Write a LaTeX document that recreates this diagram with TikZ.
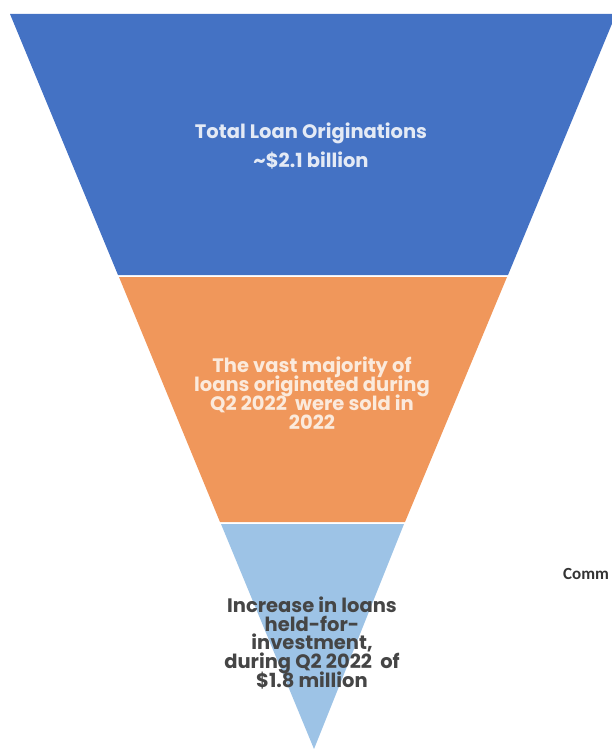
\documentclass[tikz,border=0pt]{standalone}
\usepackage{fontspec}
\setmainfont{Poppins}
\newfontfamily\calib{Carlito}
\usetikzlibrary{positioning, calc}
\definecolor{funblue}{HTML}{4472C4}
\definecolor{funorange}{HTML}{F0975B}
\definecolor{funlight}{HTML}{9DC3E6}
\definecolor{txtlight}{HTML}{E4EAF5}
\definecolor{txtpeach}{HTML}{FBEADC}
\definecolor{txtdark}{HTML}{454545}
\setlength{\lineskiplimit}{-10pt}

\begin{document}
\begin{tikzpicture}[x=1pt,y=-1pt,
  lbl/.style={align=center,inner sep=0pt,
    font=\fontsize{19.5}{18.8}\selectfont\bfseries}]
\useasboundingbox (0,0) rectangle (612,749);
\clip (0,0) rectangle (612,749);
% Funnel levels
\fill[funblue] (10,14) -- (616,14) -- (508,275) -- (118,275) -- cycle;
\fill[funorange] (119,277) -- (507,277) -- (405,522) -- (220,522) -- cycle;
\fill[funlight] (221,524) -- (404,524) -- (314,749) -- cycle;
% Labels
\node[lbl,text=txtlight] (orig) at (311,146) {Total Loan Originations\\[11pt]\textasciitilde\$2.1 billion};
\node[lbl,text=txtpeach] (sold) at (312,393) {The vast majority of\\loans originated during\\Q2 2022\ \ were sold in\\2022};
\node[lbl,text=txtdark] (held) at (312,643) {Increase in loans\\held-for-\\investment,\\during Q2 2022\ \ of\\\$1.8 million};
\node[anchor=base west,inner sep=0pt,text=black!80,font=\calib\fontsize{17}{20}\selectfont\bfseries] (comm) at (563,579) {Comm};
\end{tikzpicture}
\end{document}
